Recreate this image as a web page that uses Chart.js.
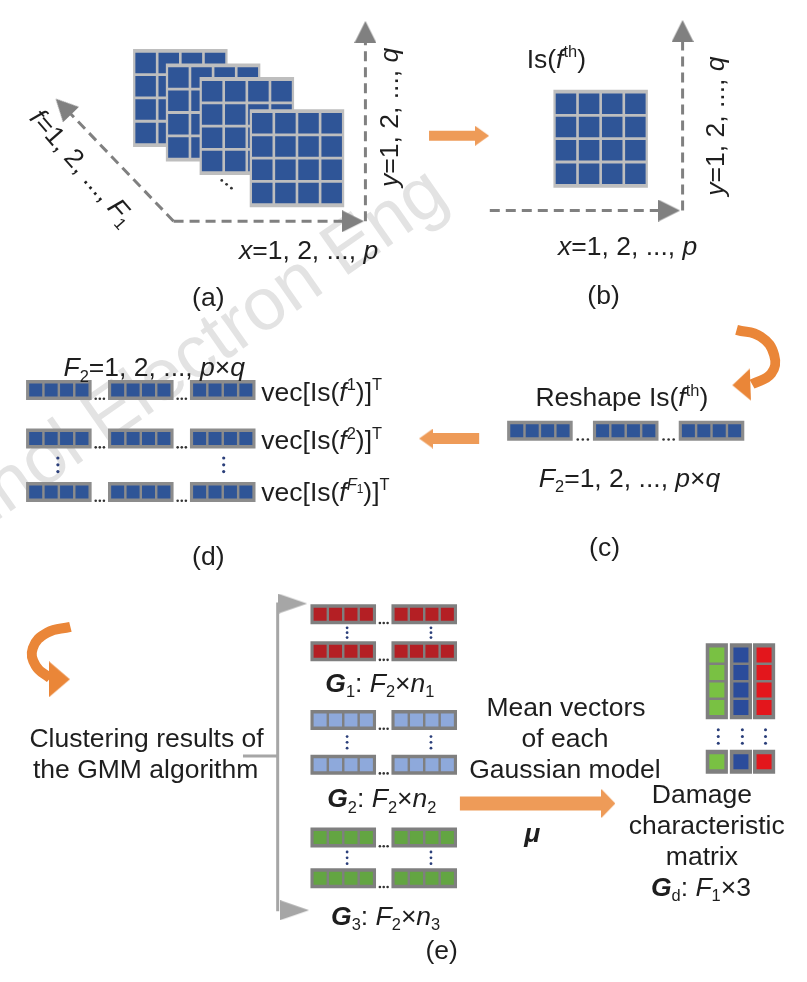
<!DOCTYPE html>
<html>
<head>
<meta charset="utf-8">
<script src="https://cdn.jsdelivr.net/npm/chart.js@4"></script>
<style>
  html, body { margin: 0; padding: 0; background: #fff; }
</style>
</head>
<body>
<canvas id="diagram" width="807" height="982"></canvas>
<script>
// the hidden x / y scales run over the picture: x 0..807, y 0..982 (top down)
const gridsA = [[123, 37], [157, 52], [192, 66], [244, 99]];   // stacked Is(f) maps
const gridsB = [[559, 79]];
const rowsC = [429];
const segsC = [511, 600, 689];
const rowsD = [387, 437, 492];
const segsD = [12, 97, 182];
const segsE = [307, 391];
const rowsG1 = [618, 656];
const rowsG2 = [727, 773];
const rowsG3 = [848, 890];
const matrixCols = [717, 742, 766];
const matrixColours = ['#79C143', '#2B4C9B', '#E3161C'];

const dashedAxes = [
    [[165, 213], [346, 213]],
    [[364, 213], [364, 26]],
    [[165, 213], [55, 99]],
    [[493, 202], [674, 202]],
    [[693, 202], [693, 24]]
];
const dashedTips = [[362, 213, 0], [364, 7, -90], [43, 87, -134], [690, 202, 0], [693, 6, -90]];

const orangeArrows = [
    {from: [430, 125], tip: [492, 125], w: 10, head: [14, 20]},
    {from: [482, 437], tip: [420, 437], w: 11, head: [14, 20]},
    {from: [462, 813], tip: [623, 813], w: 14, head: [14, 29]}
];
const curvedArrows = [
    {pts: [[749, 325], [774, 332], [788, 351], [785, 370], [765, 381]], tip: [745, 382], rot: 178, head: [18, 32]},
    {pts: [[58, 631], [34, 637], [19, 653], [22, 671], [37, 684]], tip: [57, 685], rot: 0, head: [21, 36]}
];
const bracketLines = [
    [[237, 764], [273, 764]],
    [[273, 606], [273, 924]]
];
const bracketTips = [[303, 607, 0], [305, 923, 0]];

const dotsA = [[215, 171], [220, 175], [225, 179]];
const dotsE = [[345, 632], [345, 637], [345, 642], [432, 632], [432, 637], [432, 642],
    [345, 744], [345, 750], [345, 756], [432, 744], [432, 750], [432, 756],
    [345, 863], [345, 869], [345, 875], [432, 863], [432, 869], [432, 875]];
const vdotsD = [[45, 457], [45, 464], [45, 471], [217, 457], [217, 464], [217, 471]];
const vdotsM = [[730, 737], [730, 744], [730, 751], [755, 737], [755, 744], [755, 751], [779, 737], [779, 744], [779, 751]];

const labels = [
    {x: 305, y: 242, runs: [['x', 'i'], ['=1, 2, ..., '], ['p', 'i']]},
    {x: 388, y: 106, rot: -90, runs: [['y', 'i'], ['=1, 2, ..., '], ['q', 'i']]},
    {x: 71, y: 157, rot: 49, runs: [['f', 'i'], ['=1, 2, ..., '], ['F', 'i'], ['1', '_']]},
    {x: 201, y: 291, runs: [['(a)']]},
    {x: 562, y: 45, runs: [['Is('], ['f', 'i'], ['th', '^'], [')']]},
    {x: 636, y: 238, runs: [['x', 'i'], ['=1, 2, ..., '], ['p', 'i']]},
    {x: 726, y: 115, rot: -90, runs: [['y', 'i'], ['=1, 2, ..., '], ['q', 'i']]},
    {x: 611, y: 288, runs: [['(b)']]},
    {x: 630, y: 394, runs: [['Reshape Is('], ['f', 'i'], ['th', '^'], [')']]},
    {x: 638, y: 477, runs: [['F', 'i'], ['2', '_'], ['=1, 2, ..., '], ['p', 'i'], ['×'], ['q', 'i']]},
    {x: 612, y: 548, runs: [['(c)']]},
    {x: 145, y: 363, runs: [['F', 'i'], ['2', '_'], ['=1, 2, ..., '], ['p', 'i'], ['×'], ['q', 'i']]},
    {x: 256, y: 388, align: 'left', runs: [['vec[Is('], ['f', 'i'], ['1', '^'], [')]'], ['T', '^']]},
    {x: 256, y: 438, align: 'left', runs: [['vec[Is('], ['f', 'i'], ['2', '^'], [')]'], ['T', '^']]},
    {x: 256, y: 491, align: 'left', runs: [['vec[Is('], ['f', 'i'], ['F', 'i^'], ['1', '^_'], [')]'], ['T', '^']]},
    {x: 201, y: 557, runs: [['(d)']]},
    {x: 137, y: 745, runs: [['Clustering results of']]},
    {x: 136, y: 777, runs: [['the GMM algorithm']]},
    {x: 379, y: 688, runs: [['G', 'bi'], ['1', '_'], [': '], ['F', 'i'], ['2', '_'], ['×'], ['n', 'i'], ['1', '_']]},
    {x: 381, y: 807, runs: [['G', 'bi'], ['2', '_'], [': '], ['F', 'i'], ['2', '_'], ['×'], ['n', 'i'], ['2', '_']]},
    {x: 385, y: 928, runs: [['G', 'bi'], ['3', '_'], [': '], ['F', 'i'], ['2', '_'], ['×'], ['n', 'i'], ['3', '_']]},
    {x: 443, y: 963, runs: [['(e)']]},
    {x: 572, y: 713, runs: [['Mean vectors']]},
    {x: 571, y: 745, runs: [['of each']]},
    {x: 571, y: 777, runs: [['Gaussian model']]},
    {x: 537, y: 843, runs: [['μ', 'bi']]},
    {x: 713, y: 803, runs: [['Damage']]},
    {x: 718, y: 835, runs: [['characteristic']]},
    {x: 713, y: 867, runs: [['matrix']]},
    {x: 712, y: 898, runs: [['G', 'bi'], ['d', '_'], [': '], ['F', 'i'], ['1', '_'], ['×3']]}
];

const FONT = '"Liberation Sans", Arial, sans-serif';
const SIZE = 26.5;
const BLUE = '#2F5597';
const ORANGE = '#EE9B58';
const CURVE = '#EA8638';

const pts = arr => arr.map(([x, y]) => ({x, y}));

function headImg(len, wid, colour) {
    const c = document.createElement('canvas');
    c.width = len;
    c.height = wid;
    const g = c.getContext('2d');
    g.fillStyle = colour;
    g.beginPath();
    g.moveTo(0, 0);
    g.lineTo(len, wid / 2);
    g.lineTo(0, wid);
    g.closePath();
    g.fill();
    return c;
}

const datasets = [];

function line(points, colour, width, extra) {
    datasets.push(Object.assign({
        data: pts(points), showLine: true, borderColor: colour, borderWidth: width,
        pointRadius: 0, tension: 0, fill: false
    }, extra || {}));
}
function head(tip, rot, len, wid, colour) {
    const a = rot * Math.PI / 180;
    const cx = tip[0] - Math.cos(a) * len / 2;
    const cy = tip[1] - Math.sin(a) * len / 2;
    datasets.push({
        data: [{x: cx, y: cy}], pointStyle: headImg(len, wid, colour),
        pointRotation: rot, pointRadius: 5
    });
}
function cells(centres, size, colour) {
    datasets.push({
        data: pts(centres), pointStyle: 'rect', pointRadius: size / Math.SQRT2,
        pointBackgroundColor: colour, pointBorderWidth: 0, borderWidth: 0
    });
}
function dots(list, colour, r) {
    datasets.push({data: pts(list), pointRadius: r, pointBackgroundColor: colour, pointBorderWidth: 0});
}
function frame(x, y, w, h, colour) {
    line([[x, y + h / 2], [x + w, y + h / 2]], colour, h);
}

// 4 x 4 maps
function grid(x, y) {
    frame(x, y, 98, 98, '#BEBEBE');
    const c = [];
    for (let r = 0; r < 4; r++)
        for (let k = 0; k < 4; k++) c.push([x + 13 + k * 24, y + 13 + r * 24]);
    cells(c, 20.5, BLUE);
}
// one row of vec[...] made of segments of four cells
function barRow(starts, yc, colour, frameColour) {
    const c = [];
    starts.forEach(sx => {
        frame(sx, yc - 10, 68, 20, frameColour);
        for (let k = 0; k < 4; k++) c.push([sx + 10 + k * 16, yc]);
    });
    cells(c, 13, colour);
    const d = [];
    for (let i = 0; i < starts.length - 1; i++) {
        const gx = starts[i] + 68;
        const gap = starts[i + 1] - gx;
        for (let j = 1; j <= 3; j++) d.push([gx + gap * j / 4, yc + 9]);
    }
    dots(d, '#333', 1.3);
}

// (a) and (b)
dashedAxes.forEach(p => line(p, '#808080', 3, {borderDash: [10, 6]}));
dashedTips.forEach(([x, y, r]) => head([x, y], r, 22, 22, '#808080'));
gridsA.forEach(([x, y]) => grid(x, y));
dots(dotsA, '#333', 1.4);
gridsB.forEach(([x, y]) => grid(x, y));

// (c) and (d)
rowsC.forEach(y => barRow(segsC, y, BLUE, '#8C8C8C'));
rowsD.forEach(y => barRow(segsD, y, BLUE, '#8C8C8C'));
dots(vdotsD, '#2B3F7A', 1.6);

// (e)
bracketLines.forEach(p => line(p, '#A6A6A6', 3));
bracketTips.forEach(([x, y, r]) => head([x, y], r, 29, 20, '#A6A6A6'));
rowsG1.forEach(y => barRow(segsE, y, '#B41F24', '#7F7F7F'));
rowsG2.forEach(y => barRow(segsE, y, '#8EA9DB', '#7F7F7F'));
rowsG3.forEach(y => barRow(segsE, y, '#63A542', '#7F7F7F'));
dots(dotsE, '#2B3F7A', 1.4);

matrixCols.forEach((lx, i) => {
    frame(lx, 649, 23, 76, '#7F7F7F');
    frame(lx, 758, 23, 24, '#7F7F7F');
    const c = [660, 678, 696, 714, 770].map(y => [lx + 11.5, y]);
    cells(c, 15, matrixColours[i]);
});
dots(vdotsM, '#2B3F7A', 1.5);

// orange arrows
orangeArrows.forEach(a => {
    const dir = Math.sign(a.tip[0] - a.from[0]);
    line([a.from, [a.tip[0] - dir * (a.head[0] - 1), a.tip[1]]], ORANGE, a.w);
    head(a.tip, dir > 0 ? 0 : 180, a.head[0], a.head[1], ORANGE);
});
curvedArrows.forEach(a => {
    line(a.pts, CURVE, 10, {tension: 0.45, borderCapStyle: 'butt'});
    head(a.tip, a.rot, a.head[0], a.head[1], CURVE);
});

datasets.forEach((d, i) => { d.order = -i; });

function fontFor(flags) {
    const small = flags.includes('_') || flags.includes('^');
    const sz = flags.includes('_') && flags.includes('^') ? SIZE * 0.45 : small ? SIZE * 0.62 : SIZE;
    const style = (flags.includes('i') ? 'italic ' : '') + (flags.includes('b') ? 'bold ' : '');
    return {font: style + sz + 'px ' + FONT, sz};
}
function shiftFor(flags) {
    if (flags.includes('_') && flags.includes('^')) return -SIZE * 0.28;
    if (flags.includes('_')) return SIZE * 0.2;
    if (flags.includes('^')) return -SIZE * 0.4;
    return 0;
}

const textPlugin = {
    id: 'texts',
    beforeDatasetsDraw(chart) {
        // faint journal watermark
        const {ctx, scales: {x, y}} = chart;
        ctx.save();
        ctx.translate(x.getPixelForValue(453), y.getPixelForValue(194));
        ctx.rotate(-35 * Math.PI / 180);
        ctx.font = '74px ' + FONT;
        ctx.fillStyle = '#E3E3E3';
        ctx.textAlign = 'right';
        ctx.fillText('Front Inform Technol Electron Eng', 0, 0);
        ctx.restore();
    },
    afterDatasetsDraw(chart) {
        const {ctx, scales: {x, y}} = chart;
        labels.forEach(l => {
            const runs = l.runs.map(([t, f]) => {
                const flags = f || '';
                const {font} = fontFor(flags);
                ctx.font = font;
                return {t, font, w: ctx.measureText(t).width, dy: shiftFor(flags)};
            });
            const total = runs.reduce((s, r) => s + r.w, 0);
            ctx.save();
            ctx.translate(x.getPixelForValue(l.x), y.getPixelForValue(l.y));
            ctx.rotate((l.rot || 0) * Math.PI / 180);
            ctx.fillStyle = '#1E1E1E';
            ctx.textBaseline = 'alphabetic';
            ctx.textAlign = 'left';
            let cx = l.align === 'left' ? 0 : -total / 2;
            runs.forEach(r => {
                ctx.font = r.font;
                ctx.fillText(r.t, cx, SIZE * 0.36 + r.dy);
                cx += r.w;
            });
            ctx.restore();
        });
    }
};

new Chart(document.getElementById('diagram'), {
    type: 'scatter',
    data: {datasets},
    options: {
        responsive: false,
        devicePixelRatio: 1,
        animation: false,
        events: [],
        layout: {padding: 0},
        scales: {
            x: {type: 'linear', min: 0, max: 807, display: false},
            y: {type: 'linear', min: 0, max: 982, reverse: true, display: false}
        },
        plugins: {legend: {display: false}, tooltip: {enabled: false}}
    },
    plugins: [textPlugin]
});
</script>
</body>
</html>
